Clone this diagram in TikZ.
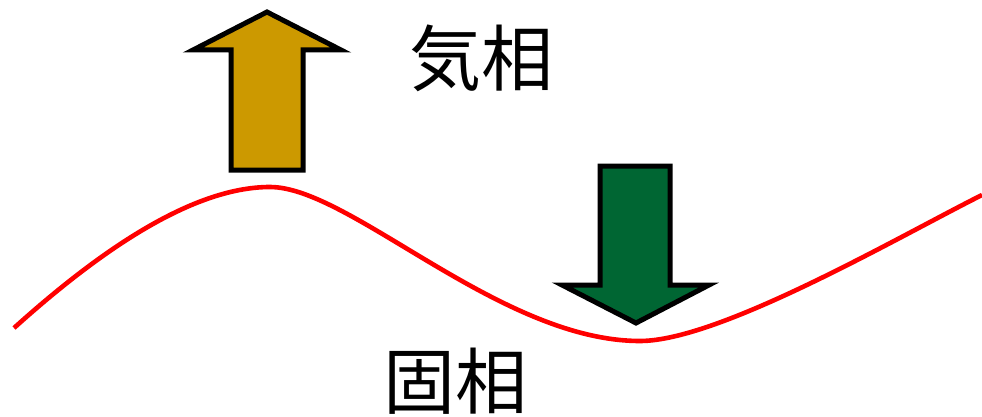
\documentclass[tikz,border=0pt]{standalone}
\usepackage{fontspec}
\newfontfamily\cjk{Noto Sans CJK JP}
\definecolor{gold}{HTML}{CC9900}
\definecolor{dgreen}{HTML}{006633}
\begin{document}
\begin{tikzpicture}[x=1pt,y=-1pt,
  arrowshape/.style={draw=black,line width=5pt,line join=miter},
  label/.style={font=\cjk\fontsize{72}{72}\selectfont,inner sep=0pt}]
\useasboundingbox (0,0) rectangle (982,417);
% interface curve
\coordinate (c0) at (14,328);
\coordinate (c1) at (270,187);
\coordinate (c2) at (640,341);
\coordinate (c3) at (982,195);
\draw[red,line width=4.6pt]
  (c0) .. controls (95,255) and (190,187) .. (c1)
       .. controls (350,187) and (500,341) .. (c2)
       .. controls (720,341) and (900,236) .. (c3);
% up arrow
\draw[arrowshape,fill=gold] (231,170) -- (231,50) -- (193,50) -- (267,12) -- (341,50) -- (303,50) -- (303,170) -- cycle;
% down arrow
\draw[arrowshape,fill=dgreen] (600,166) -- (670,166) -- (670,285) -- (709,285) -- (636,323) -- (562,285) -- (600,285) -- cycle;
\node[label] (gas) at (481,58) {気相};
\node[label] (solid) at (455,381) {固相};
\end{tikzpicture}
\end{document}
